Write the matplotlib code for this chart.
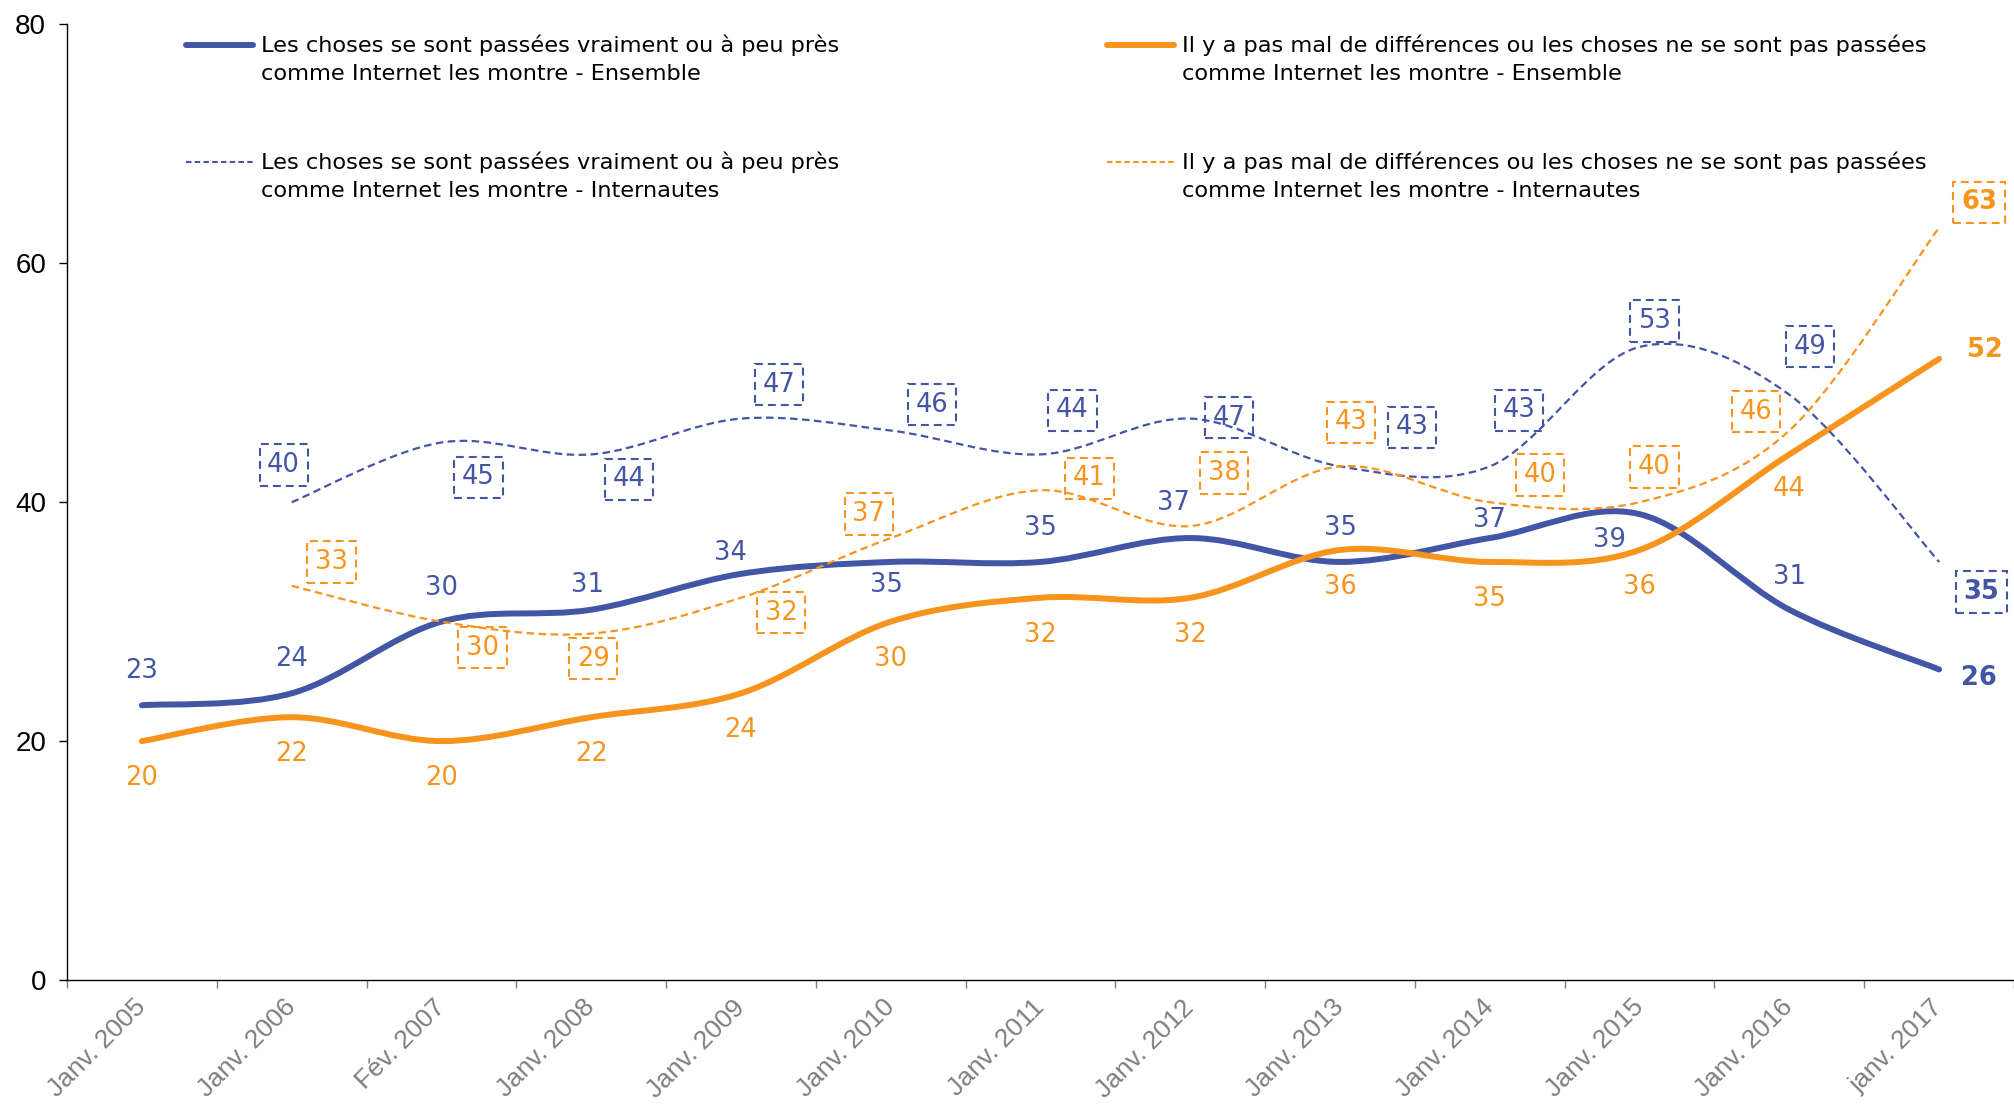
import numpy as np
import matplotlib
matplotlib.use("Agg")
import matplotlib.pyplot as plt
from matplotlib.path import Path
from matplotlib.patches import PathPatch
from matplotlib.lines import Line2D

# données
dates = ["Janv. 2005", "Janv. 2006", "Fév. 2007", "Janv. 2008", "Janv. 2009",
         "Janv. 2010", "Janv. 2011", "Janv. 2012", "Janv. 2013", "Janv. 2014",
         "Janv. 2015", "Janv. 2016", "janv. 2017"]
vraiment_ensemble = [23, 24, 30, 31, 34, 35, 35, 37, 35, 37, 39, 31, 26]
differences_ensemble = [20, 22, 20, 22, 24, 30, 32, 32, 36, 35, 36, 44, 52]
# les séries internautes commencent en janv. 2006
vraiment_internautes = [40, 45, 44, 47, 46, 44, 47, 43, 43, 53, 49, 35]
differences_internautes = [33, 30, 29, 32, 37, 41, 38, 43, 40, 40, 46, 63]

leg_vraiment = "Les choses se sont passées vraiment ou à peu près\ncomme Internet les montre"
leg_differences = "Il y a pas mal de différences ou les choses ne se sont pas passées\ncomme Internet les montre"

BLEU = "#4355a5"
ORANGE = "#f7941e"
W, H = 2014, 1107

# décalages des étiquettes (pixels, x vers la droite, y vers le haut)
off_vraiment_ens = [(0, 34), (0, 34), (0, 34), (-4, 25), (-11, 21), (-4, -23), (0, 34),
                    (-17, 35), (0, 34), (0, 18), (-30, -26), (0, 33), (40, -9)]
off_diff_ens = [(0, -37)] * 11 + [(0, -35), (46, 9)]
off_vraiment_int = [(-8, 37), (37, -35), (38, -25), (38, 34), (41, 26), (32, 44), (39, 1),
                    (72, 39), (29, 56), (15, 26), (21, 48), (42, -30)]
off_diff_int = [(40, 24), (41, -26), (2, -25), (40, -15), (-22, 24), (49, 12), (34, 53),
                (11, 44), (50, 27), (15, 35), (-33, 19), (40, 25)]


def courbe_lissee(xs, ys):
    """chemin de Bezier qui passe par tous les points (lissage type tableur)"""
    n = len(xs)
    verts = [(xs[0], ys[0])]
    codes = [Path.MOVETO]
    for i in range(n - 1):
        a = max(i - 1, 0)
        b = min(i + 2, n - 1)
        c1 = (xs[i] + (xs[i + 1] - xs[a]) / 6, ys[i] + (ys[i + 1] - ys[a]) / 6)
        c2 = (xs[i + 1] - (xs[b] - xs[i]) / 6, ys[i + 1] - (ys[b] - ys[i]) / 6)
        verts += [c1, c2, (xs[i + 1], ys[i + 1])]
        codes += [Path.CURVE4] * 3
    return Path(verts, codes)


def etiquettes(ax, xs, ys, offsets, color, boite=False, dernier_gras=True):
    for k, (x, y) in enumerate(zip(xs, ys)):
        dx, dy = offsets[k]
        gras = dernier_gras and k == len(ys) - 1
        bbox = None
        if boite:
            bbox = dict(boxstyle="square,pad=0.3", fc="none", ec=color, lw=1.5,
                        ls=(0, (3.8, 2.4)))
        ax.annotate(str(y), (x, y), xytext=(dx * 0.72, dy * 0.72), textcoords="offset points",
                    ha="center", va="center", color=color, fontsize=18.5,
                    fontweight="bold" if gras else "normal", family="DejaVu Sans",
                    bbox=bbox, zorder=5)


fig = plt.figure(figsize=(W / 100, H / 100), dpi=100)
ax = fig.add_axes([67 / W, 1 - 980 / H, (W - 67) / W, (980 - 24.4) / H])

x_all = np.arange(len(dates))
x_int = x_all[1:]

ax.add_patch(PathPatch(courbe_lissee(x_all, vraiment_ensemble), fill=False, ec=BLEU, lw=4.3,
                       capstyle="round", joinstyle="round", zorder=2))
ax.add_patch(PathPatch(courbe_lissee(x_all, differences_ensemble), fill=False, ec=ORANGE, lw=4.3,
                       capstyle="round", joinstyle="round", zorder=2))
ax.add_patch(PathPatch(courbe_lissee(x_int, vraiment_internautes), fill=False, ec=BLEU, lw=1.6,
                       ls=(0, (3.4, 2.0)), zorder=3))
ax.add_patch(PathPatch(courbe_lissee(x_int, differences_internautes), fill=False, ec=ORANGE, lw=1.6,
                       ls=(0, (3.4, 2.0)), zorder=3))

etiquettes(ax, x_all, vraiment_ensemble, off_vraiment_ens, BLEU)
etiquettes(ax, x_all, differences_ensemble, off_diff_ens, ORANGE)
etiquettes(ax, x_int, vraiment_internautes, off_vraiment_int, BLEU, boite=True)
etiquettes(ax, x_int, differences_internautes, off_diff_int, ORANGE, boite=True)

ax.set_xlim(-0.5, len(dates) - 0.5)
ax.set_ylim(0, 80)
ax.set_yticks([0, 20, 40, 60, 80])
ax.set_xticks(np.arange(-0.5, len(dates)), labels=[])
ax.set_xticks(x_all, labels=dates, minor=True)
ax.tick_params(axis="x", which="major", length=6, width=1, color="#808080")
ax.tick_params(axis="x", which="minor", length=0, pad=17, labelsize=19, labelcolor="#7f7f7f")
ax.tick_params(axis="y", length=6, width=1, pad=9, labelsize=20)
for lab in ax.get_xticklabels(minor=True):
    lab.set_rotation(45)
    lab.set_ha("right")
    lab.set_va("center")
    lab.set_rotation_mode("anchor")
    lab.set_family("Liberation Sans")
for lab in ax.get_yticklabels():
    lab.set_family("Liberation Sans")
for s in ["top", "right"]:
    ax.spines[s].set_visible(False)
for s in ["left", "bottom"]:
    ax.spines[s].set_linewidth(1)

# légende faite à la main (trait aligné sur la première ligne)
entrees = [
    (186, 45, BLEU, "-", 4.3, leg_vraiment + " - Ensemble"),
    (1107, 45, ORANGE, "-", 4.3, leg_differences + " - Ensemble"),
    (186, 162, BLEU, "--", 1.5, leg_vraiment + " - Internautes"),
    (1107, 162, ORANGE, "--", 1.5, leg_differences + " - Internautes"),
]
for x0, y0, col, ls, lw, txt in entrees:
    ln = Line2D([x0 / W, (x0 + 67) / W], [1 - y0 / H, 1 - y0 / H], transform=fig.transFigure,
                color=col, lw=lw, solid_capstyle="round")
    if ls == "--":
        ln.set_dashes((2.6, 1.6))
    fig.add_artist(ln)
    fig.text((x0 + 75) / W, 1 - (y0 - 10) / H, txt, ha="left", va="top", fontsize=16.2,
             family="DejaVu Sans", color="black", linespacing=1.45)

fig.savefig("out.png", dpi=100)
